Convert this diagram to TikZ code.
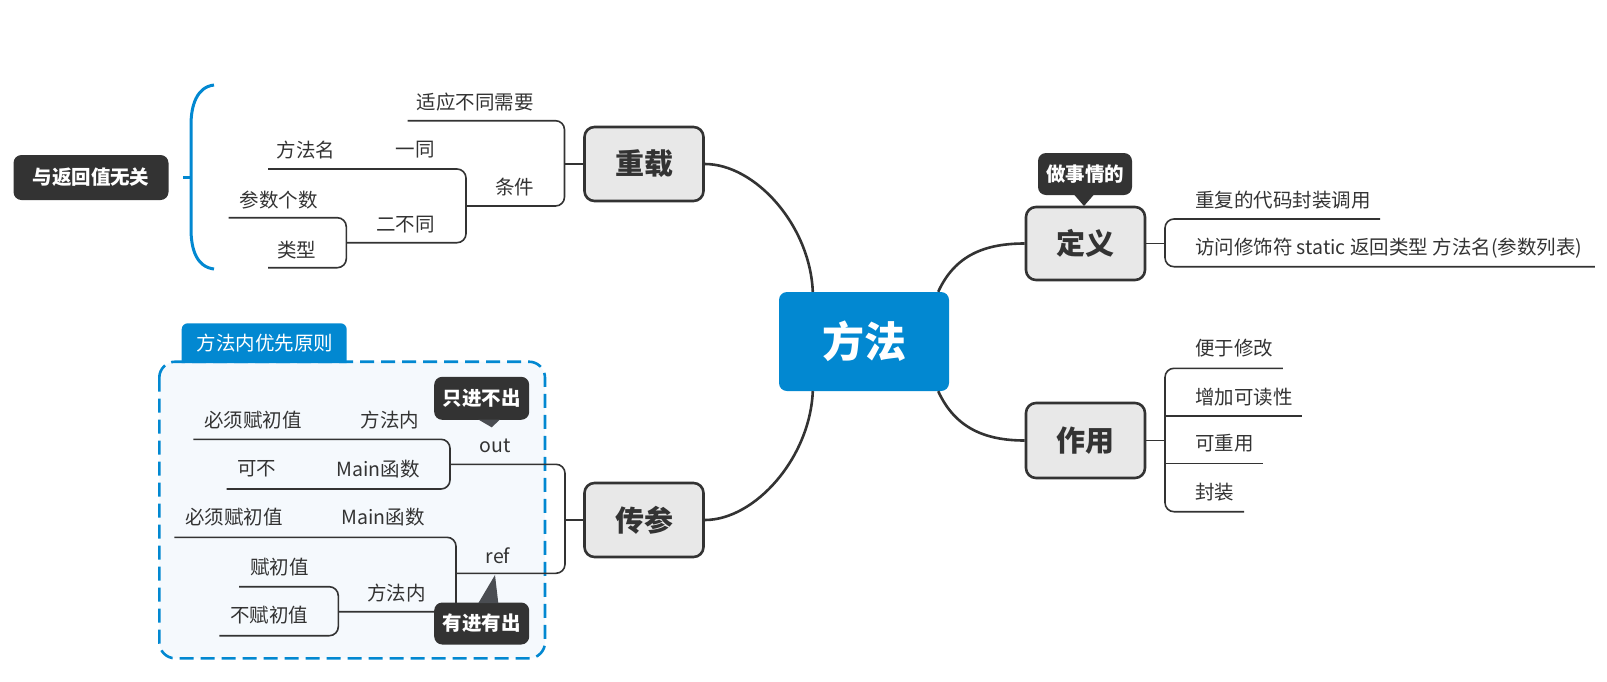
\documentclass[tikz,border=0pt]{standalone}
\usepackage{fontspec}
\setmainfont{Noto Sans CJK SC}
\definecolor{ink}{HTML}{333333}
\definecolor{xblue}{HTML}{0288D1}
\definecolor{boxfill}{HTML}{E8E8E8}
\definecolor{panel}{HTML}{F5F9FD}
\definecolor{ptr}{HTML}{4A4D52}
\tikzset{
  txt/.style={font=\fontsize{19.5}{22}\selectfont, text=ink, inner sep=0pt},
  branch/.style={draw=ink, line width=1.6pt, rounded corners=9pt},
  mainline/.style={draw=ink, line width=2.6pt},
  topic/.style={draw=ink, line width=2.6pt, fill=boxfill, rounded corners=10pt,
    minimum width=119pt, minimum height=74pt, inner sep=0pt,
    font=\fontsize{29}{32}\selectfont\bfseries, text=ink},
  callout/.style={fill=ink, rounded corners=8pt, text=white, inner sep=0pt,
    font=\fontsize{19.5}{22}\selectfont\bfseries, minimum width=95pt, minimum height=43pt},
}
\begin{document}
\begin{tikzpicture}[x=1pt,y=-1pt]
\useasboundingbox (0,0) rectangle (1607,681);

% ---------- panel for 传参 ----------
\draw[xblue, line width=2.6pt, dash pattern=on 14pt off 7pt, fill=panel, rounded corners=16pt]
  (159.3,361.7) rectangle (545,658.3);
\fill[xblue] (181.7,363) {[rounded corners=6pt] -- (181.7,323.3) -- (346.7,323.3)} -- (346.7,363) -- cycle;
\node[txt, text=white] (tab) at (265,343.3) {方法内优先原则};

% ---------- central and main topics ----------
\node[fill=xblue, rounded corners=8pt, minimum width=170pt, minimum height=99pt, inner sep=0pt,
  text=white, font=\fontsize{42}{46}\selectfont\bfseries] (fangfa) at (864,341.5) {方法};
\node[topic] (zhongzai) at (644,164) {重载};
\node[topic] (chuancan) at (644,520) {传参};
\node[topic, minimum height=73pt] (dingyi) at (1085.5,243.5) {定义};
\node[topic, minimum height=75pt] (zuoyong) at (1085.5,440.5) {作用};

\draw[mainline] (zhongzai.east) .. controls (755,164) and (810,225) .. ([xshift=34pt]fangfa.north west);
\draw[mainline] (chuancan.east) .. controls (755,520) and (810,458) .. ([xshift=34pt]fangfa.south west);
\draw[mainline] ([xshift=-11pt]fangfa.north east) .. controls (955,255) and (985,243.5) .. (dingyi.west);
\draw[mainline] ([xshift=-11pt]fangfa.south east) .. controls (955,428) and (985,440.5) .. (zuoyong.west);

% ---------- 重载 branch ----------
\coordinate (jz) at (564.5,164);
\draw[branch] (407.6,120.7) -- (564.5,120.7) -- (564.5,206) -- (466,206);
\draw[branch] (jz) -- (zhongzai.west);
\node[txt] (shiying) at (475,101.7) {适应不同需要};
\node[txt] (tiaojian) at (514.7,186.7) {条件};
\draw[branch] (268,169) -- (466,169) -- (466,242.7) -- (346.3,242.7);
\node[txt] (yitong) at (415,150) {一同};
\node[txt] (ffm) at (306,150) {方法名};
\node[txt] (erbutong) at (405.7,225) {二不同};
\draw[branch] (228.5,217.7) -- (346.3,217.7) -- (346.3,267.7) -- (268,267.7);
\node[txt] (csgs) at (278.6,200) {参数个数};
\node[txt] (leixing) at (296.6,250) {类型};

% bracket + summary
\draw[xblue, line width=3pt] (214,85) .. controls (197,87) and (191,105) .. (191,125) -- (191,229)
  .. controls (191,250) and (197,267) .. (214,269);
\coordinate (brk) at (191,177.3);
\node[callout, minimum width=155pt, minimum height=45pt] (wuguan) at (91,177.5) {与返回值无关};
\draw[xblue, line width=3pt] (brk) -- ++(-8,0);

% ---------- 传参 branch ----------
\coordinate (jc) at (565,520);
\draw[branch] (450,464.3) -- (565,464.3) -- (565,573.3) -- (456,573.3);
\draw[branch] (jc) -- (chuancan.west);
\node[txt] (out) at (495,446) {out};
\node[txt] (ref) at (498,555.7) {ref};

\draw[branch] (193.3,439.3) -- (450,439.3) -- (450,489) -- (226.7,489);
\node[txt] (o1) at (390,420) {方法内};
\node[txt] (o1a) at (253,420) {必须赋初值};
\node[txt] (o2) at (378,469) {Main函数};
\node[txt] (o2a) at (256.7,469) {可不};

\draw[branch] (174.3,537.3) -- (456,537.3) -- (456,611.7) -- (338.3,611.7);
\node[txt] (r1) at (383.3,517.3) {Main函数};
\node[txt] (r1a) at (234,517.3) {必须赋初值};
\node[txt] (r2) at (396.7,592.7) {方法内};
\draw[branch] (239,586.7) -- (338.3,586.7) -- (338.3,635.7) -- (219.3,635.7);
\node[txt] (r2a) at (279.3,566.7) {赋初值};
\node[txt] (r2b) at (269.3,615) {不赋初值};

% callouts
\node[callout] (zjbc) at (481.7,398.3) {只进不出};
\fill[ptr] (478.3,419.5) -- (500,419.5) -- (491.7,427.3) -- cycle;
\node[callout, minimum height=42pt] (yjyc) at (481.7,623.5) {有进有出};
\fill[ptr] (478.3,603.2) -- (498.3,603.2) -- (495,575) -- cycle;

% ---------- 定义 branch ----------
\coordinate (jd) at (1165,243.5);
\draw[branch] (1380,219) -- (1165,219) -- (1165,266.7) -- (1594.8,266.7);
\draw[branch] (dingyi.east) -- (jd);
\node[txt, anchor=west] (d1) at (1194.8,200) {重复的代码封装调用};
\node[txt, anchor=west] (d2) at (1194.8,248.3) {访问修饰符 static 返回类型 方法名(参数列表)};
\node[callout, minimum width=94pt, minimum height=42pt] (zsq) at (1085,174) {做事情的};
\fill[ink] (1074,194.5) -- (1094,194.5) -- (1084,206) -- cycle;

% ---------- 作用 branch ----------
\coordinate (jy) at (1165,440.5);
\draw[branch] (1282.8,368.3) -- (1165,368.3) -- (1165,511.7) -- (1244,511.7);
\draw[branch] (1165,416) -- (1302,416);
\draw[branch] (1165,463.3) -- (1263,463.3);
\draw[branch] (zuoyong.east) -- (jy);
\node[txt, anchor=west] (z1) at (1194.8,348.3) {便于修改};
\node[txt, anchor=west] (z2) at (1194.8,396.7) {增加可读性};
\node[txt, anchor=west] (z3) at (1194.8,443.3) {可重用};
\node[txt, anchor=west] (z4) at (1194.8,491.7) {封装};
\end{tikzpicture}
\end{document}
